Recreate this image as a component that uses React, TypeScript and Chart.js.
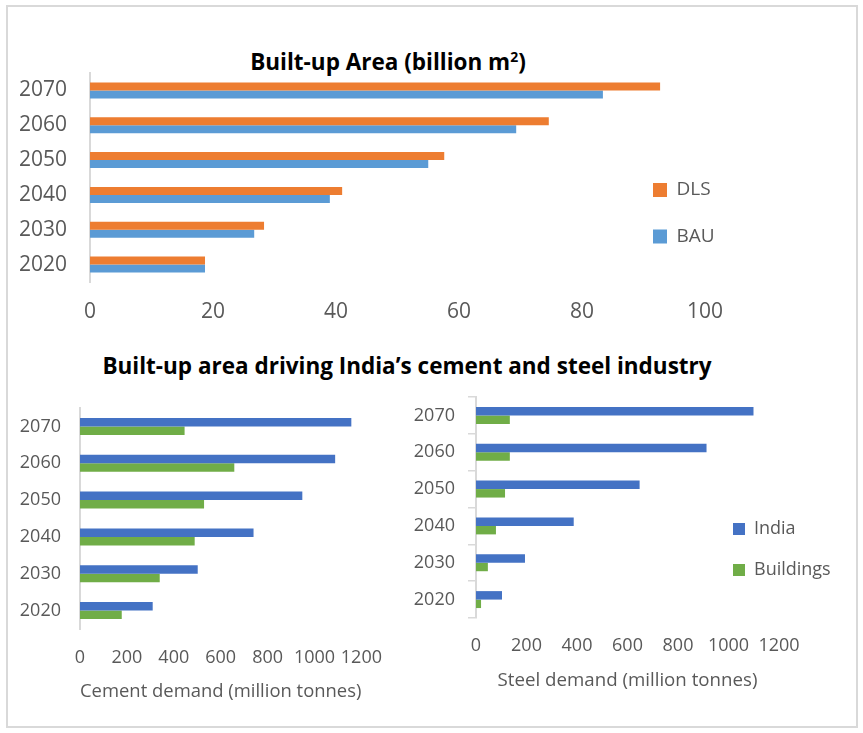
import React, { useEffect, useRef } from 'react';
import { Chart, registerables } from 'chart.js';

Chart.register(...registerables);

// ---------- data ----------
const years = ['2020', '2030', '2040', '2050', '2060', '2070'];

const areaBAU = [18.7, 26.7, 39.0, 55.0, 69.3, 83.4];
const areaDLS = [18.7, 28.3, 41.0, 57.6, 74.6, 92.7];

const cementIndia = [310, 502, 740, 948, 1088, 1157];
const cementBuildings = [178, 340, 489, 529, 658, 446];

const steelIndia = [103, 194, 387, 648, 913, 1099];
const steelBuildings = [20, 47, 79, 115, 134, 134];

const areaAxis = { min: 0, max: 100, step: 20 };
const demandAxis = { min: 0, max: 1200, step: 200 };

const areaTitle = 'Built-up Area (billion m';
const bottomTitle = 'Built-up area driving India\u2019s cement and steel industry';
const cementTitle = 'Cement demand (million tonnes)';
const steelTitle = 'Steel demand (million tonnes)';

// ---------- styling ----------
const FONT = '"Open Sans"';
const GREY = '#595959';
const AXIS_GREY = '#D9D9D9';
const ORANGE = '#ED7D31';
const LIGHT_BLUE = '#5B9BD5';
const BLUE = '#4472C4';
const GREEN = '#70AD47';

const rev = <T,>(a: T[]) => [...a].reverse();

function legendMover(left: number, top: number) {
  return {
    id: 'legendMover',
    beforeDraw(chart: any) {
      const l = chart.legend;
      if (!l) return;
      const w = l.width;
      const h = l.height;
      l.left = left;
      l.top = top;
      l.right = left + w;
      l.bottom = top + h;
    },
  };
}

interface Opts {
  datasets: { label: string; data: number[]; color: string }[];
  axis: { min: number; max: number; step: number };
  tickSize: number;
  padding: { left: number; right: number; top: number; bottom: number };
  yWidth: number;
  xHeight: number;
  yTickPadding: number;
  xTickPadding: number;
  yTickMarks: boolean;
  xTitle?: string;
  legend: { show: boolean; left: number; top: number; padding: number; box: number; size: number };
}

function build(canvas: HTMLCanvasElement, o: Opts) {
  return new Chart(canvas, {
    type: 'bar',
    data: {
      labels: rev(years),
      datasets: o.datasets.map((d) => ({
        label: d.label,
        data: rev(d.data),
        backgroundColor: d.color,
        borderWidth: 0,
        categoryPercentage: 0.46,
        barPercentage: 1,
      })),
    },
    options: {
      indexAxis: 'y',
      responsive: false,
      animation: false,
      layout: { padding: o.padding },
      plugins: {
        title: { display: false },
        tooltip: { enabled: false },
        legend: {
          display: o.legend.show,
          position: 'chartArea',
          align: 'start',
          labels: {
            boxWidth: o.legend.box,
            boxHeight: o.legend.box,
            padding: o.legend.padding,
            color: GREY,
            font: { family: FONT, size: o.legend.size },
          },
        },
      },
      scales: {
        x: {
          type: 'linear',
          min: o.axis.min,
          max: o.axis.max,
          grid: { display: false, drawTicks: false },
          border: { display: false },
          ticks: {
            stepSize: o.axis.step,
            autoSkip: false,
            maxRotation: 0,
            color: GREY,
            padding: o.xTickPadding,
            font: { family: FONT, size: o.tickSize },
            callback: (v: any) => String(v),
          },
          title: o.xTitle
            ? {
                display: true,
                text: o.xTitle,
                color: GREY,
                padding: 0,
                font: { family: FONT, size: 18.7 },
              }
            : { display: false },
          afterFit: (s: any) => {
            s.height = o.xHeight;
          },
        },
        y: {
          type: 'category',
          grid: o.yTickMarks
            ? {
                display: true,
                drawOnChartArea: false,
                drawTicks: true,
                tickLength: 8,
                color: AXIS_GREY,
                lineWidth: 1.5,
              }
            : { display: false, drawTicks: false },
          border: { display: true, color: AXIS_GREY, width: 2 },
          ticks: {
            color: GREY,
            padding: o.yTickPadding,
            font: { family: FONT, size: o.tickSize },
          },
          afterFit: (s: any) => {
            s.width = o.yWidth;
            s.paddingTop = 0;
            s.paddingBottom = 0;
          },
        },
      },
    } as any,
    plugins: [legendMover(o.legend.left, o.legend.top)],
  });
}

export default function App() {
  const r1 = useRef<HTMLCanvasElement>(null);
  const r2 = useRef<HTMLCanvasElement>(null);
  const r3 = useRef<HTMLCanvasElement>(null);

  useEffect(() => {
    const charts: Chart[] = [];
    if (r1.current) {
      charts.push(
        build(r1.current, {
          datasets: [
            { label: 'DLS', data: areaDLS, color: ORANGE },
            { label: 'BAU', data: areaBAU, color: LIGHT_BLUE },
          ],
          axis: areaAxis,
          tickSize: 21,
          padding: { left: 10, right: 158, top: 13, bottom: 0 },
          yWidth: 80,
          xHeight: 50,
          yTickPadding: 23,
          xTickPadding: 17,
          yTickMarks: false,
          legend: { show: true, left: 625.5, top: 93, padding: 27.5, box: 14, size: 19 },
        })
      );
    }
    if (r2.current) {
      charts.push(
        build(r2.current, {
          datasets: [
            { label: 'India', data: cementIndia, color: BLUE },
            { label: 'Buildings', data: cementBuildings, color: GREEN },
          ],
          axis: demandAxis,
          tickSize: 18,
          padding: { left: 10, right: 38, top: 13, bottom: 0 },
          yWidth: 70,
          xHeight: 74,
          yTickPadding: 19,
          xTickPadding: 18,
          yTickMarks: false,
          xTitle: cementTitle,
          legend: { show: false, left: 0, top: 0, padding: 10, box: 12, size: 18 },
        })
      );
    }
    if (r3.current) {
      charts.push(
        build(r3.current, {
          datasets: [
            { label: 'India', data: steelIndia, color: BLUE },
            { label: 'Buildings', data: steelBuildings, color: GREEN },
          ],
          axis: demandAxis,
          tickSize: 18,
          padding: { left: 6, right: 71, top: 13, bottom: 0 },
          yWidth: 70,
          xHeight: 74,
          yTickPadding: 13,
          xTickPadding: 17,
          yTickMarks: true,
          xTitle: steelTitle,
          legend: { show: true, left: 310, top: 113, padding: 23, box: 12, size: 18 },
        })
      );
    }
    return () => charts.forEach((c) => c.destroy());
  }, []);

  const titleStyle = (cx: number, top: number, w: number): React.CSSProperties => ({
    position: 'absolute',
    left: cx - w / 2,
    top,
    width: w,
    textAlign: 'center',
    fontFamily: FONT,
    fontWeight: 700,
    fontSize: 22.5,
    lineHeight: '26px',
    color: '#000',
    whiteSpace: 'nowrap',
  });

  return (
    <div
      style={{
        position: 'absolute',
        left: 0,
        top: 0,
        width: 863,
        height: 733,
        background: '#fff',
        overflow: 'hidden',
      }}
    >
      <div
        style={{
          position: 'absolute',
          left: 6,
          top: 5,
          width: 852,
          height: 723,
          boxSizing: 'border-box',
          border: '2px solid #D9D9D9',
        }}
      />
      <div style={titleStyle(388, 49, 400)}>
        {areaTitle}
        <sup style={{ fontSize: '0.62em', verticalAlign: '0.6em', lineHeight: 0 }}>2</sup>)
      </div>
      <div style={titleStyle(407, 353, 760)}>{bottomTitle}</div>
      <canvas ref={r1} width={863} height={272} style={{ position: 'absolute', left: 0, top: 60 }} />
      <canvas ref={r2} width={400} height={308} style={{ position: 'absolute', left: 0, top: 395 }} />
      <canvas ref={r3} width={450} height={308} style={{ position: 'absolute', left: 400, top: 384 }} />
    </div>
  );
}
